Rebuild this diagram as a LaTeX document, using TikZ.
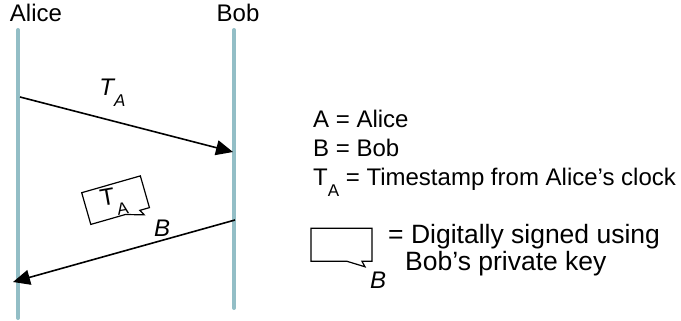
\documentclass[tikz,border=0pt]{standalone}
\usepackage{fontspec}
\setmainfont{Liberation Sans}
\usetikzlibrary{positioning, arrows.meta}
\definecolor{lifeBlue}{HTML}{93BEC6}
\newcommand{\lowsub}[1]{\raisebox{-11pt}{\fontsize{17}{17}\selectfont #1}}

\begin{document}
\begin{tikzpicture}[
  x=1pt, y=-1pt,
  every node/.style={font=\fontsize{24}{28}\selectfont, inner sep=0pt},
  lifeline/.style={draw=lifeBlue, line width=4pt, line cap=round},
  msg/.style={draw=black, line width=1.6pt, -{Triangle[length=17pt, width=15pt]}},
  bubbleline/.style={draw=black, line width=1.2pt, line join=miter},
  sigbubble/.pic={
    \draw[bubbleline] (0,0) -- (61,0) -- (61,33) -- (51,33) -- (54,38.5)
      -- (36,33) -- (0,33) -- cycle;
  },
  legend/.style={anchor=base west},
  wide/.style={font=\fontsize{26.5}{30}\selectfont},
]
  \useasboundingbox (0,0) rectangle (681,321);

  % lifelines
  \node[anchor=base] (alice) at (36,21.5) {Alice};
  \node[anchor=base] (bob) at (238,21.5) {Bob};
  \coordinate (aliceTop) at (18,30);
  \coordinate (aliceBot) at (18,318);
  \coordinate (bobTop) at (234,30);
  \coordinate (bobBot) at (234,308);
  \draw[lifeline] (aliceTop) -- (aliceBot);
  \draw[lifeline] (bobTop) -- (bobBot);

  % messages
  \coordinate (sendA) at (20,97);
  \coordinate (recvB) at (233,152);
  \coordinate (sendB) at (235,220);
  \coordinate (recvA) at (13,282);
  \draw[msg] (sendA) -- node[pos=0.434, above=14pt] (stamp) {\itshape T\lowsub{A}} (recvB);
  \draw[msg] (sendB) -- node[pos=0.328, above=3.5pt] (signer) {\itshape B} (recvA);

  % signed timestamp
  \pic[rotate=16] at (81.7,192.7) {sigbubble};
  \node[rotate=10] (signed) at (114,202) {T\lowsub{A}};

  % legend
  \node[legend] (keyA) at (313,128) {A = Alice};
  \node[legend] (keyB) at ([yshift=-28.5pt]keyA.base west) {B = Bob};
  \node[legend] (keyT) at ([yshift=-28.5pt]keyB.base west) {T\lowsub{A} = Timestamp from Alice’s clock};
  \pic at (311,228.3) {sigbubble};
  \node[legend] (keyBub) at (370,288) {\itshape B};
  \node[legend, wide] (keySig) at (388,243.3) {= Digitally signed using};
  \node[legend, wide] (keyKey) at (405,270) {Bob’s private key};
\end{tikzpicture}
\end{document}
